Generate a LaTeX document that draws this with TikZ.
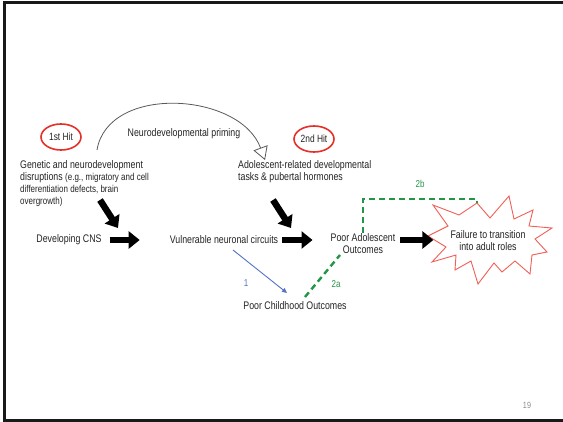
\documentclass[tikz,border=0pt]{standalone}
\usepackage{fontspec}
\setmainfont{Liberation Sans}[FakeStretch=0.8]
\usepackage{tikz}
\usetikzlibrary{arrows.meta}
\usetikzlibrary{shapes.geometric}
\usetikzlibrary{calc}

\definecolor{hitred}{RGB}{228,48,40}
\definecolor{starred}{RGB}{240,96,88}
\definecolor{pathgreen}{RGB}{34,150,70}
\definecolor{pathblue}{RGB}{84,112,200}
\definecolor{txtgray}{RGB}{35,35,35}

\tikzset{
  txt/.style={text=txtgray, font=\fontsize{11}{12}\selectfont, inner sep=1pt},
  small/.style={font=\fontsize{10}{11}\selectfont},
  hit/.style={ellipse, draw=hitred, line width=1.6pt, minimum width=40pt,
    minimum height=26pt, inner sep=0pt, text=txtgray, font=\fontsize{10.5}{11}\selectfont},
  bigarrow/.style={line width=6.5pt, -{Triangle[length=11pt,width=17pt]}},
  greendash/.style={pathgreen, line width=2.4pt, dash pattern=on 6pt off 4pt},
}

\begin{document}
\begin{tikzpicture}[x=1pt, y=-1pt]
  % Page size and slide frame
  \useasboundingbox (0,0) rectangle (563,422);
  \draw[line width=3pt, black!90] (563,3) -- (4.5,3) -- (4.5,420.5) -- (563,420.5);

  % The two hits
  \node[hit] (hitone) at (61,137) {1st Hit};
  \node[hit] (hittwo) at (314,139) {2nd Hit};

  % Text of the hits
  \node[txt, anchor=north west, align=left] (genetic) at (19,159)
    {Genetic and neurodevelopment\\
     disruptions {\fontsize{10}{11}\selectfont (e.g., migratory and cell}\\
     {\fontsize{10}{11}\selectfont differentiation defects, brain}\\
     {\fontsize{10}{11}\selectfont overgrowth)}};
  \node[txt, anchor=north west, align=left] (adol) at (237,159)
    {Adolescent-related developmental\\ tasks \& pubertal hormones};

  % Priming arc with open head
  \coordinate (arcstart) at (97,150);
  \coordinate (arcend) at (265,160);
  \draw[black!65, line width=0.8pt, -{Triangle[open,length=13pt,width=15pt]}]
    (arcstart) .. controls (108,84) and (240,92) .. (arcend);
  \node[txt] (priming) at (184,134) {Neurodevelopmental priming};

  % Main chain
  \node[txt] (cns) at (69,240) {Developing CNS};
  \node[txt] (vnc) at (224,240) {Vulnerable neuronal circuits};
  \node[txt, align=center] (pao) at (363,244) {Poor Adolescent\\ Outcomes};
  \node[txt] (pco) at (295,306) {Poor Childhood Outcomes};

  % Failure explosion
  \draw[starred, line width=0.9pt, fill=white]
    (428,236) -- (448,226) -- (433,205) -- (459,215) -- (477,203) -- (490,218)
    -- (509,196) -- (514,219) -- (533,210) -- (529,226) -- (552,228) -- (535,239)
    -- (547,252) -- (532,255) -- (530,274) -- (515,261) -- (502,272) -- (494,263)
    -- (478,284) -- (471,261) -- (455,270) -- (456,255) -- (432,262) -- (446,247)
    -- cycle;
  \node[txt, align=center] (fail) at (488,241) {Failure to transition\\ into adult roles};

  % Thick black arrows
  \draw[bigarrow, shorten <=7pt, shorten >=29pt] (cns.east) -- (vnc.west);
  \draw[bigarrow, shorten <=3pt, shorten >=17pt] (vnc.east) -- (vnc.east -| pao.west);
  \draw[bigarrow, shorten <=4pt, shorten >=16pt] (vnc.east -| pao.east) -- (vnc.east -| fail.west);
  \coordinate (dA) at (100,200);
  \coordinate (dB) at (118,228);
  \coordinate (dC) at (273,200);
  \coordinate (dD) at (291,228);
  \draw[bigarrow] (dA) -- (dB);
  \draw[bigarrow] (dC) -- (dD);

  % Path 1 (blue)
  \coordinate (bA) at (233,250);
  \coordinate (bB) at (287,293);
  \draw[pathblue, line width=0.9pt, -{Triangle[length=5pt,width=4.5pt]}] (bA) -- (bB);
  \node[pathblue, font=\fontsize{10}{11}\selectfont] (one) at (246,283) {1};

  % Paths 2a and 2b (green, dashed)
  \coordinate (tipB) at (477,203);
  \draw[greendash] (305,297) -- (340,255);
  \draw[greendash] (pao.north) -- ++(0,-34) -| (tipB);
  \node[pathgreen, font=\fontsize{10}{11}\selectfont] (twoa) at (336,284) {2a};
  \node[pathgreen, font=\fontsize{10}{11}\selectfont] (twob) at (420,184) {2b};

  % Slide number
  \node[black!45, font=\fontsize{9}{10}\selectfont] (pagenum) at (527,405) {19};
\end{tikzpicture}
\end{document}
